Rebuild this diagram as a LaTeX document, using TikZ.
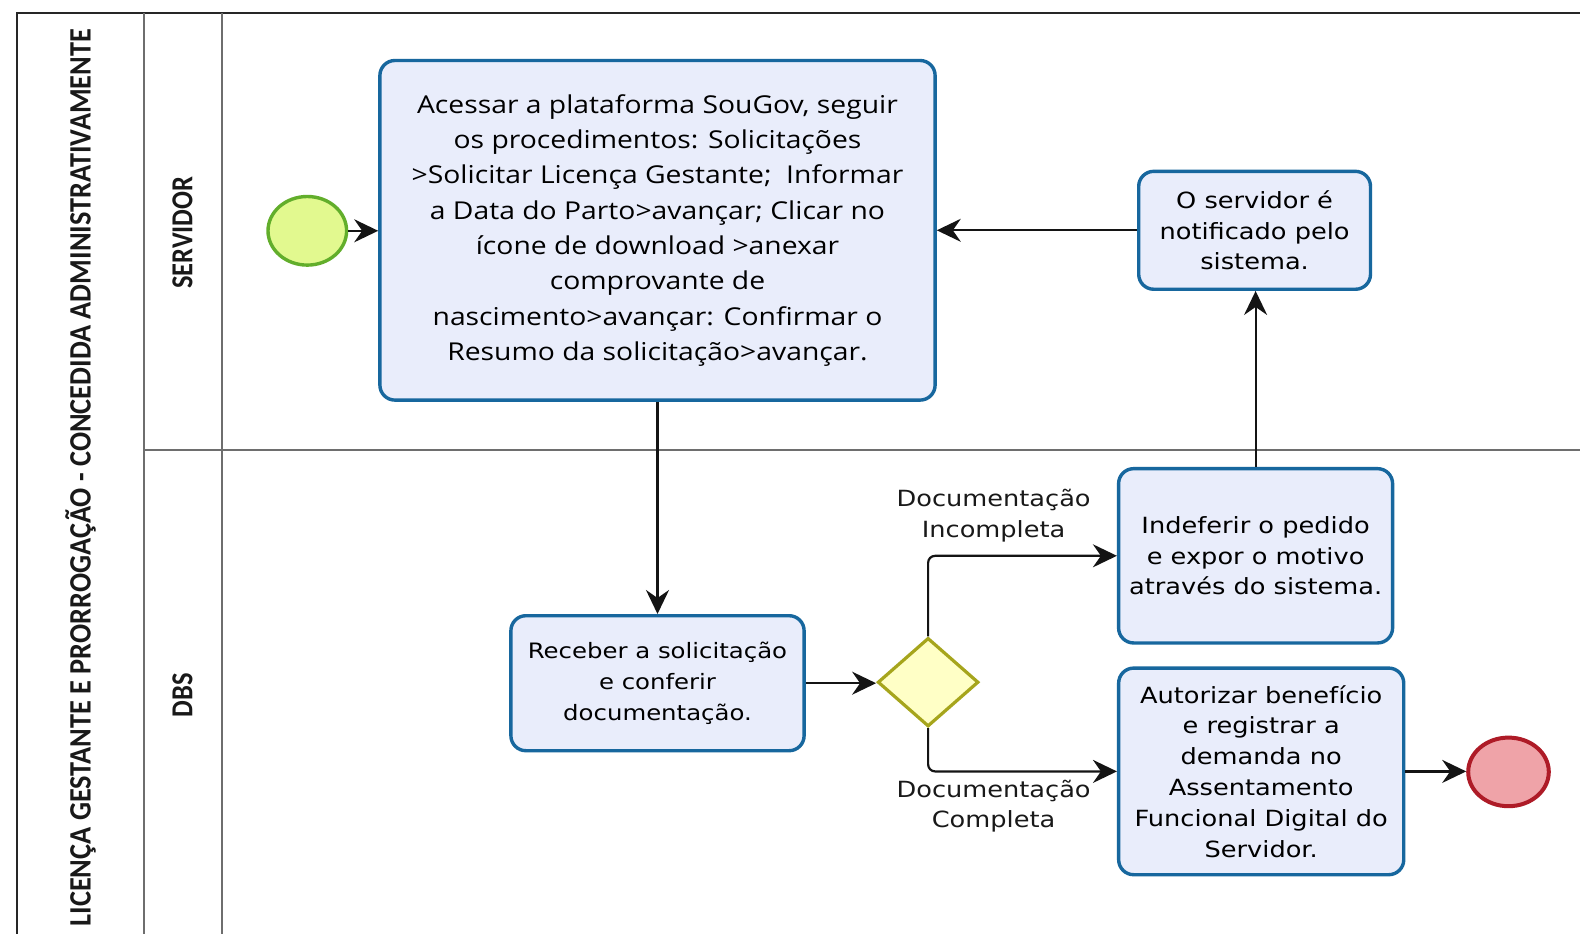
\documentclass[tikz,border=0pt]{standalone}
\usepackage{fontspec}
\usetikzlibrary{shapes.geometric,arrows.meta}
\newfontfamily\boxfont[FakeStretch=1.15]{DejaVu Sans}
\newfontfamily\mainboxfont[FakeStretch=1.15]{Open Sans}
\newfontfamily\lanefont{Carlito}
\definecolor{taskfill}{HTML}{E9EDFB}
\definecolor{taskdraw}{HTML}{17679E}
\definecolor{startfill}{HTML}{E2F98F}
\definecolor{startdraw}{HTML}{62AE2B}
\definecolor{gwfill}{HTML}{FFFFC6}
\definecolor{gwdraw}{HTML}{A6A51C}
\definecolor{endfill}{HTML}{EFA3A8}
\definecolor{enddraw}{HTML}{AE1B27}
\definecolor{lanegray}{HTML}{6E6E6E}
\tikzset{
  task/.style={draw=taskdraw, fill=taskfill, line width=3.4pt, rounded corners=15pt,
    inner sep=0pt, align=center, text=black},
  smalltext/.style={font={\fontsize{22.3}{30.8}\selectfont\boxfont}},
  maintext/.style={font={\fontsize{24.6}{35.3}\selectfont\mainboxfont}},
  flow/.style={line width=2.2pt, draw=black!92, -{Stealth[length=24pt,width=23pt,inset=8pt]}},
  lanelabel/.style={rotate=90, font={\fontsize{28.3}{32}\selectfont\lanefont\bfseries}, text=black!90},
  edgelabel/.style={align=center, font={\fontsize{22.3}{30.8}\selectfont\boxfont}, text=black!90}
}
\begin{document}
\begin{tikzpicture}[x=1pt,y=-1pt]
\fill[white] (0,0) rectangle (1580,934);
\useasboundingbox (0,0) rectangle (1580,934);
% pool and lanes
\draw[line width=2.2pt, draw=black!85] (17.1,934) -- (17.1,13.1) -- (1580,13.1);
\draw[line width=2pt, draw=lanegray] (144.1,13.1) -- (144.1,934);
\draw[line width=2pt, draw=lanegray] (221.7,13.1) -- (221.7,934);
\draw[line width=2pt, draw=lanegray] (144.1,450.4) -- (1580,450.4);
\node[lanelabel] (pool) at (80.6,477.6) {\scalebox{1}[1.1]{LICENÇA GESTANTE E PRORROGAÇÃO - CONCEDIDA ADMINISTRATIVAMENTE}};
\node[lanelabel, font={\fontsize{26.5}{30}\selectfont\lanefont\bfseries}] (lservidor) at (182.4,232.8) {\scalebox{1}[1.15]{SERVIDOR}};
\node[lanelabel, font={\fontsize{26.5}{30}\selectfont\lanefont\bfseries}] (ldbs) at (182.4,695) {\scalebox{1}[1.15]{DBS}};
% events and gateway
\node[ellipse, draw=startdraw, fill=startfill, line width=3.4pt, minimum width=78.6pt, minimum height=68.6pt, inner sep=0pt] (start) at (307.3,230.8) {};
\node[ellipse, draw=enddraw, fill=endfill, line width=4pt, minimum width=80.6pt, minimum height=68.6pt, inner sep=0pt] (end) at (1508.5,771.9) {};
\node[diamond, draw=gwdraw, fill=gwfill, line width=3.2pt, minimum width=100.8pt, minimum height=88.6pt, inner sep=0pt] (gw) at (928.1,682.2) {};
% tasks
\node[task, maintext, minimum width=555.2pt, minimum height=339.6pt] (main) at (657.5,230.3)
 {Acessar a plataforma SouGov, seguir\\
  os procedimentos: Solicitações\\
  >Solicitar Licença Gestante; \ Informar\\
  a Data do Parto>avançar; Clicar no\\
  ícone de download >anexar\\
  comprovante de\\
  nascimento>avançar: Confirmar o\\
  Resumo da solicitação>avançar.};
\node[task, smalltext, minimum width=231.8pt, minimum height=117.9pt] (notify) at (1254.6,230.3)
 {O servidor é\\notificado pelo\\sistema.};
\node[task, smalltext, minimum width=274pt, minimum height=174.3pt] (indef) at (1255.6,555.8)
 {Indeferir o pedido\\e expor o motivo\\através do sistema.};
\node[task, font={\fontsize{21.2}{30.8}\selectfont\boxfont}, minimum width=293.2pt, minimum height=135pt] (receber) at (657.5,683.2)
 {Receber a solicitação\\e conferir\\documentação.};
\node[task, smalltext, minimum width=285.1pt, minimum height=206.6pt] (autor) at (1261.2,771.4)
 {Autorizar benefício\\e registrar a\\demanda no\\Assentamento\\Funcional Digital do\\Servidor.};
% labels
\node[edgelabel] (lincomp) at (993.6,516) {Documentação\\Incompleta};
\node[edgelabel] (lcomp) at (993.6,806.2) {Documentação\\Completa};
% flows
\draw[flow] (start.east) -- (start.east -| main.west);
\draw[flow] (notify.west) -- (notify.west -| main.east);
\draw[flow] (main.south) -- (receber.north);
\draw[flow] (receber.east) -- (receber.east -| gw.west);
\draw[flow, rounded corners=7pt] (gw.north) |- (indef.west);
\draw[flow, rounded corners=7pt] (gw.south) |- (autor.west);
\draw[flow] (indef.north) -- (indef.north |- notify.south);
\draw[flow] (autor.east) -- (autor.east -| end.west);
\end{tikzpicture}
\end{document}
